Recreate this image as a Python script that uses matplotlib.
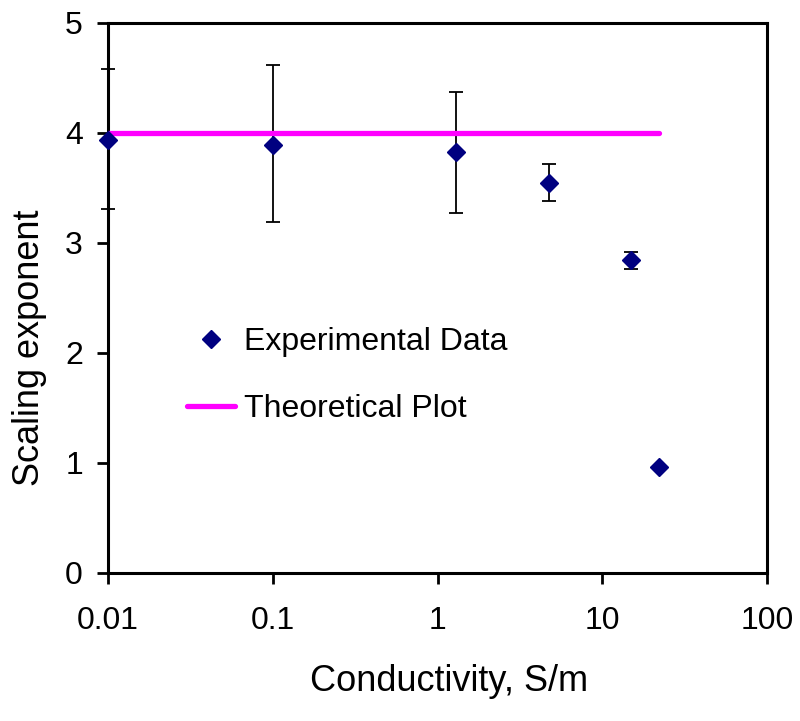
import matplotlib
matplotlib.use("Agg")
import matplotlib.pyplot as plt

plt.rcParams["font.family"] = ["Liberation Sans", "DejaVu Sans"]

# values
conductivity = [0.01, 0.1, 1.3, 4.75, 15, 22]
exponent = [3.94, 3.89, 3.83, 3.55, 2.85, 0.96]
err_upper = [4.58, 4.62, 4.37, 3.72, 2.92, 0.96]
err_lower = [3.31, 3.19, 3.27, 3.38, 2.76, 0.96]

theory_x = [0.01, 22]
theory_y = [4, 4]

x_ticks = [0.01, 0.1, 1, 10, 100]
x_tick_labels = ["0.01", "0.1", "1", "10", "100"]
y_ticks = [0, 1, 2, 3, 4, 5]

NAVY = "#000080"
MAGENTA = "#FF00FF"

fig = plt.figure(figsize=(8, 7.21), dpi=100)
ax = fig.add_axes([108 / 800, 148 / 721, 659 / 800, 550 / 721])

yerr = [
    [e - lo for e, lo in zip(exponent, err_lower)],
    [hi - e for e, hi in zip(exponent, err_upper)],
]
ax.errorbar(conductivity, exponent, yerr=yerr, fmt="none", ecolor="black",
            elinewidth=1.3, capsize=4.8, capthick=1.3, clip_on=False, zorder=2)
ax.plot(theory_x, theory_y, color=MAGENTA, linewidth=3.8, solid_capstyle="round",
        label="Theoretical Plot", zorder=3)
ax.plot(conductivity, exponent, linestyle="none", marker="D", markersize=9.5,
        color=NAVY, label="Experimental Data", zorder=4, clip_on=False)

ax.set_xscale("log")
ax.set_xlim(0.01, 100)
ax.set_ylim(0, 5)
ax.set_xticks(x_ticks)
ax.set_xticklabels(x_tick_labels)
ax.minorticks_off()
ax.set_yticks(y_ticks)

for side in ["left", "right", "top", "bottom"]:
    ax.spines[side].set_linewidth(2.2)
ax.tick_params(axis="both", direction="out", length=8, width=2, labelsize=23)
ax.tick_params(axis="x", pad=16)
ax.tick_params(axis="y", pad=10)

ax.set_xlabel("Conductivity, S/m", fontsize=26)
ax.set_ylabel("Scaling exponent", fontsize=26)
ax.xaxis.set_label_coords(0.517, -0.165)
ax.yaxis.set_label_coords(-0.093, 0.41)

handles, labels = ax.get_legend_handles_labels()
ax.legend(handles[::-1], labels[::-1], frameon=False, fontsize=23,
          loc="upper left", bbox_to_anchor=(0.1, 0.47),
          handlelength=1.5, handletextpad=0.3, labelspacing=1.15,
          borderaxespad=0)

fig.savefig("out.png", dpi=100)
